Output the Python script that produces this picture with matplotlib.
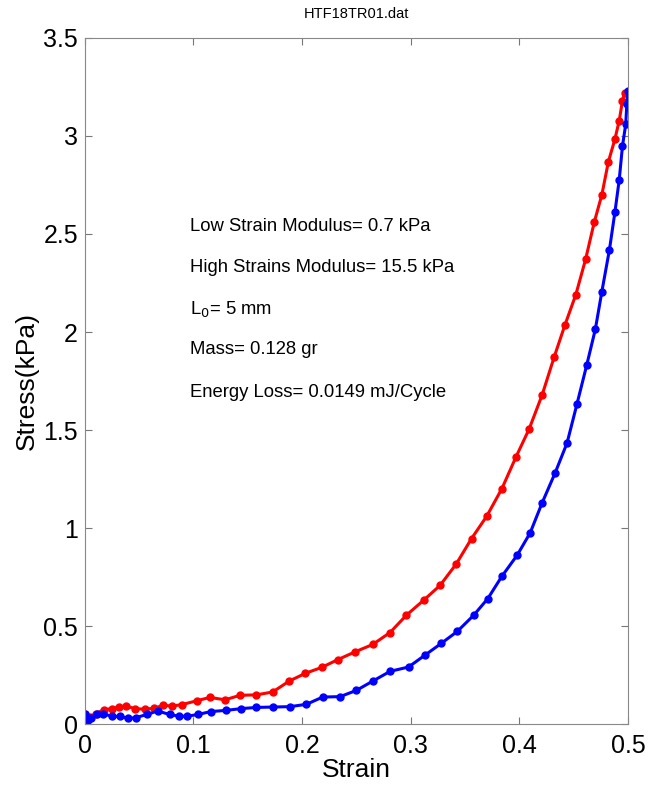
import matplotlib
matplotlib.use('Agg')
import matplotlib.pyplot as plt

plt.rcParams['font.family'] = ['Liberation Sans', 'DejaVu Sans']

# loading curve (red)
load_strain = [0.0, 0.005, 0.01, 0.018, 0.025, 0.031, 0.038, 0.046, 0.055, 0.064,
               0.072, 0.080, 0.089, 0.103, 0.115, 0.129, 0.143, 0.158, 0.173, 0.188,
               0.203, 0.218, 0.233, 0.249, 0.265, 0.281, 0.296, 0.312, 0.327, 0.342,
               0.356, 0.370, 0.384, 0.397, 0.409, 0.421, 0.432, 0.442, 0.452, 0.461,
               0.469, 0.476, 0.482, 0.488, 0.492, 0.495, 0.497]
load_stress = [0.05, 0.037, 0.055, 0.075, 0.08, 0.088, 0.093, 0.08, 0.077, 0.082,
               0.097, 0.093, 0.100, 0.12, 0.137, 0.125, 0.148, 0.150, 0.165, 0.22,
               0.26, 0.29, 0.33, 0.37, 0.407, 0.468, 0.556, 0.633, 0.708, 0.818,
               0.947, 1.061, 1.202, 1.364, 1.505, 1.679, 1.871, 2.036, 2.19, 2.37,
               2.56, 2.70, 2.868, 2.983, 3.078, 3.18, 3.22]

# unloading curve (blue)
unload_strain = [0.0, 0.003, 0.006, 0.011, 0.017, 0.025, 0.032, 0.040, 0.047, 0.057,
                 0.067, 0.078, 0.087, 0.094, 0.104, 0.116, 0.130, 0.144, 0.158, 0.173,
                 0.189, 0.204, 0.219, 0.235, 0.250, 0.265, 0.281, 0.298, 0.313, 0.328,
                 0.343, 0.358, 0.371, 0.384, 0.398, 0.410, 0.421, 0.433, 0.444, 0.453,
                 0.462, 0.470, 0.476, 0.483, 0.488, 0.492, 0.495, 0.498, 0.499, 0.500]
unload_stress = [0.05, 0.02, 0.03, 0.05, 0.054, 0.04, 0.04, 0.03, 0.034, 0.05,
                 0.068, 0.05, 0.041, 0.041, 0.05, 0.065, 0.071, 0.08, 0.086, 0.088,
                 0.09, 0.102, 0.139, 0.141, 0.173, 0.22, 0.27, 0.292, 0.352, 0.412,
                 0.474, 0.556, 0.641, 0.755, 0.862, 0.976, 1.129, 1.282, 1.435, 1.631,
                 1.83, 2.014, 2.206, 2.42, 2.61, 2.776, 2.949, 3.06, 3.163, 3.23]

notes = ['Low Strain Modulus= 0.7 kPa',
         'High Strains Modulus= 15.5 kPa',
         'L$_0$= 5 mm',
         'Mass= 0.128 gr',
         'Energy Loss= 0.0149 mJ/Cycle']
note_y = [2.54, 2.33, 2.12, 1.91, 1.69]

fig = plt.figure(figsize=(6.48, 7.89), dpi=100)
ax = fig.add_axes([0.131, 0.082, 0.838, 0.870])

ax.plot(load_strain, load_stress, '-o', color='red', lw=2.2, ms=5)
ax.plot(unload_strain, unload_stress, '-o', color='blue', lw=2.2, ms=5)

for txt, yy in zip(notes, note_y):
    ax.text(0.097, yy, txt, fontsize=13.3, va='center', ha='left')

ax.set_xlim(0, 0.5)
ax.set_ylim(0, 3.5)
ax.set_xticks([0, 0.1, 0.2, 0.3, 0.4, 0.5])
ax.set_xticklabels(['0', '0.1', '0.2', '0.3', '0.4', '0.5'])
ax.set_yticks([0, 0.5, 1, 1.5, 2, 2.5, 3, 3.5])
ax.set_yticklabels(['0', '0.5', '1', '1.5', '2', '2.5', '3', '3.5'])
ax.tick_params(direction='in', top=True, right=True, length=5, labelsize=18,
               color='#777777')
ax.tick_params(axis='x', pad=7)
ax.tick_params(axis='y', pad=5)
for s in ax.spines.values():
    s.set_color('#888888')

ax.set_xlabel('Strain', fontsize=19, labelpad=0)
ax.set_ylabel('Stress(kPa)', fontsize=19, labelpad=3)
ax.set_title('HTF18TR01.dat', fontsize=10.5, pad=14)

fig.savefig('out.png', dpi=100)
